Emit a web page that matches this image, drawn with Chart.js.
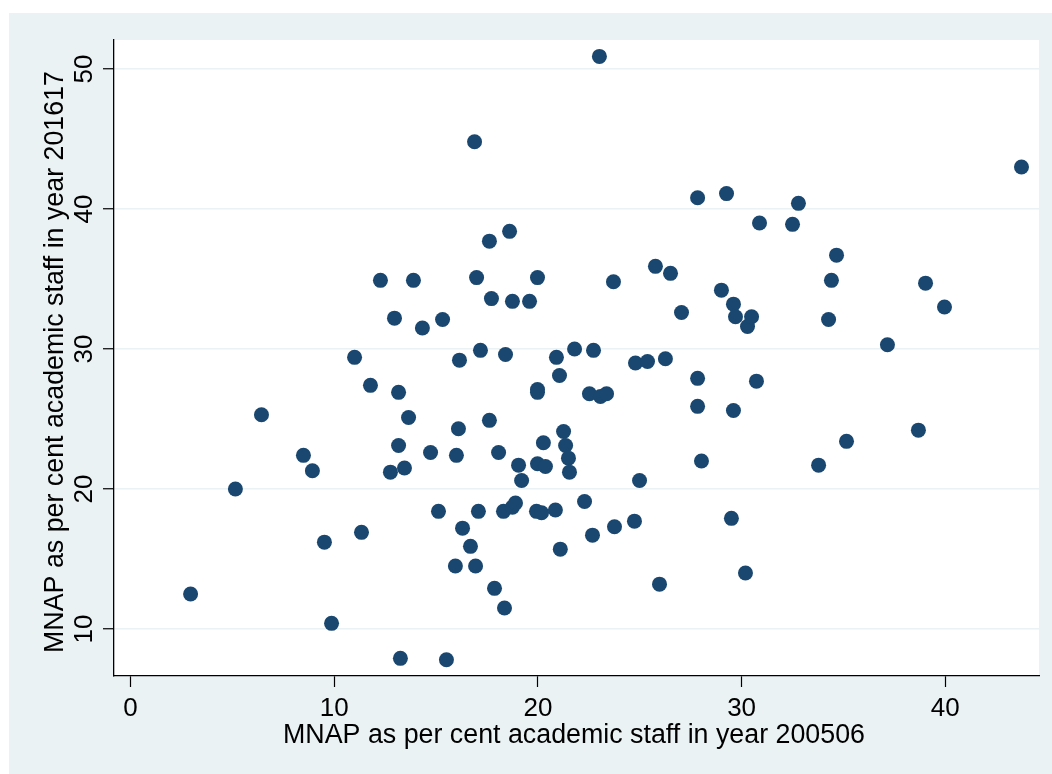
<!DOCTYPE html>
<html>
<head>
<meta charset="utf-8">
<script src="https://cdn.jsdelivr.net/npm/chart.js@4.4.1/dist/chart.umd.min.js"></script>
<style>
  html, body { margin: 0; padding: 0; background: #ffffff; }
  canvas { display: block; }
</style>
</head>
<body>
<canvas id="scatter" width="1052" height="774"></canvas>
<script>
// MNAP as per cent academic staff, 200506 (x) vs 201617 (y)
const mnap0506 = [
  2.95, 5.15, 6.43, 8.49, 8.93, 9.52, 9.87, 11.0, 11.34, 11.78,
  12.27, 12.76, 12.96, 13.16, 13.16, 13.25, 13.45, 13.65, 13.89, 14.33,
  14.73, 15.12, 15.32, 15.51, 15.95, 16.0, 16.1, 16.15, 16.3, 16.69,
  16.89, 16.94, 16.99, 17.08, 17.18, 17.62, 17.62, 17.72, 17.87, 18.07,
  18.31, 18.36, 18.41, 18.61, 18.75, 18.75, 18.9, 19.05, 19.2, 19.59,
  19.93, 19.98, 19.98, 19.98, 19.98, 20.18, 20.27, 20.37, 20.86, 20.91,
  21.06, 21.1, 21.26, 21.36, 21.5, 21.55, 21.8, 22.29, 22.53, 22.68,
  22.73, 23.02, 23.07, 23.37, 23.71, 23.76, 24.74, 24.79, 24.99, 25.38,
  25.77, 25.97, 26.26, 26.51, 27.05, 27.84, 27.84, 27.84, 28.03, 29.01,
  29.26, 29.5, 29.6, 29.6, 29.7, 30.19, 30.29, 30.49, 30.73, 30.88,
  32.5, 32.79, 33.78, 34.27, 34.41, 34.66, 35.15, 37.16, 38.68, 39.03,
  39.96, 43.74
];
const mnap1617 = [
  12.5, 20.0, 25.3, 22.4, 21.3, 16.2, 10.4, 29.4, 16.9, 27.4,
  34.9, 21.2, 32.2, 26.9, 23.1, 7.9, 21.5, 25.1, 34.9, 31.5,
  22.6, 18.4, 32.1, 7.8, 14.5, 22.4, 24.3, 29.2, 17.2, 15.9,
  44.8, 14.5, 35.1, 18.4, 29.9, 24.9, 37.7, 33.6, 12.9, 22.6,
  18.4, 11.5, 29.6, 38.4, 33.4, 18.7, 19.0, 21.7, 20.6, 33.4,
  18.4, 21.8, 35.1, 27.1, 26.9, 18.3, 23.3, 21.6, 18.5, 29.4,
  28.1, 15.7, 24.1, 23.1, 22.2, 21.2, 30.0, 19.1, 26.8, 16.7,
  29.9, 50.9, 26.6, 26.8, 34.8, 17.3, 17.7, 29.0, 20.6, 29.1,
  35.9, 13.2, 29.3, 35.4, 32.6, 40.8, 27.9, 25.9, 22.0, 34.2,
  41.1, 17.9, 33.2, 25.6, 32.3, 14.0, 31.6, 32.3, 27.7, 39.0,
  38.9, 40.4, 21.7, 32.1, 34.9, 36.7, 23.4, 30.3, 24.2, 34.7,
  33.0, 43.0
];
const yTickLabels = ['10', '20', '30', '40', '50'];
const xTitle = 'MNAP as per cent academic staff in year 200506';
const yTitle = 'MNAP as per cent academic staff in year 201617';

const puntos = mnap0506.map((x, i) => ({ x: x, y: mnap1617[i] }));

const fuente = '26px "Liberation Sans", Arial, sans-serif';
const fuenteTitulo = '26.8px "Liberation Sans", Arial, sans-serif';
const fondo = '#eaf2f3';
const azul = '#1a476f';

// fondo tipo Stata + textos rotados
const stataLook = {
  id: 'stataLook',
  beforeDraw(chart) {
    const { ctx, chartArea: a } = chart;
    ctx.save();
    ctx.fillStyle = '#ffffff';
    ctx.fillRect(0, 0, chart.width, chart.height);
    ctx.fillStyle = fondo;
    ctx.fillRect(9, 13, chart.width - 9, chart.height - 13);
    ctx.fillStyle = '#ffffff';
    ctx.fillRect(a.left, a.top, a.right - a.left, a.bottom - a.top);
    ctx.restore();
  },
  afterDraw(chart) {
    const { ctx } = chart;
    const yScale = chart.scales.y;
    ctx.save();
    ctx.fillStyle = '#000000';
    ctx.font = fuente;
    ctx.textAlign = 'center';
    ctx.textBaseline = 'alphabetic';
    // etiquetas del eje y, giradas
    yTickLabels.forEach(t => {
      const py = yScale.getPixelForValue(Number(t));
      ctx.save();
      ctx.translate(92, py);
      ctx.rotate(-Math.PI / 2);
      ctx.fillText(t, 0, 0);
      ctx.restore();
    });
    // titulos
    ctx.font = fuenteTitulo;
    ctx.save();
    ctx.translate(63, 362);
    ctx.rotate(-Math.PI / 2);
    ctx.fillText(yTitle, 0, 0);
    ctx.restore();
    ctx.fillText(xTitle, 574, 743);
    ctx.restore();
  }
};

const chart = new Chart(document.getElementById('scatter').getContext('2d'), {
  type: 'scatter',
  data: {
    datasets: [{
      data: puntos,
      backgroundColor: azul,
      borderWidth: 0,
      pointRadius: 7.5,
      pointHoverRadius: 7.5
    }]
  },
  options: {
    responsive: false,
    animation: false,
    layout: { padding: { left: 0, top: 40, right: 13, bottom: 0 } },
    plugins: { legend: { display: false }, tooltip: { enabled: false } },
    scales: {
      x: {
        type: 'linear',
        min: -0.81,
        max: 44.6,
        afterFit: s => { s.height = 98; },
        border: { display: true, color: '#000000', width: 1.3 },
        grid: {
          drawOnChartArea: false,
          drawTicks: true,
          tickLength: 11,
          tickColor: '#000000',
          tickWidth: 1.2
        },
        ticks: {
          stepSize: 10,
          includeBounds: false,
          maxRotation: 0,
          padding: 6,
          color: '#000000',
          font: { family: '"Liberation Sans", Arial, sans-serif', size: 26 }
        }
      },
      y: {
        type: 'linear',
        min: 6.64,
        max: 52.07,
        afterFit: s => { s.width = 114; },
        border: { display: true, color: '#000000', width: 1.3 },
        grid: {
          color: fondo,
          lineWidth: 1.5,
          drawTicks: true,
          tickLength: 11,
          tickColor: '#000000',
          tickWidth: 1.2
        },
        ticks: {
          stepSize: 10,
          includeBounds: false,
          display: false
        }
      }
    }
  },
  plugins: [stataLook]
});
</script>
</body>
</html>
